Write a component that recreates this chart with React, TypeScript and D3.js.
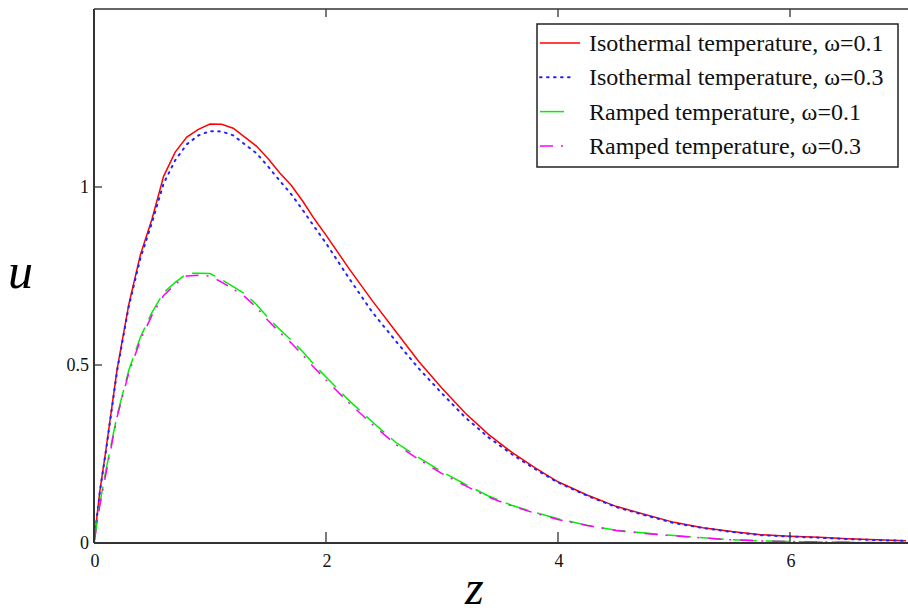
import React from "react";
import * as d3 from "d3";

const zVals = [0, 0.05, 0.1, 0.2, 0.3, 0.4, 0.5, 0.6, 0.7, 0.8, 0.9, 1.0, 1.1, 1.2, 1.3, 1.4, 1.5, 1.6, 1.7, 1.8, 1.9, 2.0,
  2.2, 2.4, 2.6, 2.8, 3.0, 3.2, 3.4, 3.6, 3.8, 4.0,
  4.25, 4.5, 4.75, 5.0, 5.25, 5.5, 5.75, 6.0, 6.25, 6.5, 6.75, 7.0];

const isoW01 = [0, 0.145, 0.255, 0.49, 0.67, 0.81, 0.91, 1.03, 1.098, 1.14, 1.162, 1.177, 1.176, 1.165, 1.14, 1.115, 1.08, 1.04, 1.005, 0.96, 0.91, 0.865,
  0.77, 0.68, 0.595, 0.51, 0.435, 0.365, 0.305, 0.255, 0.212, 0.172,
  0.135, 0.103, 0.08, 0.058, 0.043, 0.032, 0.023, 0.019, 0.016, 0.012, 0.009, 0.006];

const isoW03 = [0, 0.143, 0.252, 0.485, 0.665, 0.80, 0.90, 1.01, 1.075, 1.12, 1.145, 1.157, 1.156, 1.145, 1.12, 1.095, 1.058, 1.018, 0.98, 0.935, 0.888, 0.842,
  0.743, 0.648, 0.568, 0.49, 0.42, 0.353, 0.297, 0.25, 0.208, 0.17,
  0.133, 0.101, 0.078, 0.056, 0.042, 0.031, 0.022, 0.018, 0.015, 0.011, 0.008, 0.006];

const rampW01 = [0, 0.11, 0.2, 0.36, 0.485, 0.578, 0.648, 0.703, 0.732, 0.757, 0.758, 0.757, 0.74, 0.72, 0.7, 0.67, 0.633, 0.6, 0.57, 0.537, 0.5, 0.466,
  0.4, 0.34, 0.283, 0.24, 0.2, 0.165, 0.132, 0.106, 0.086, 0.068,
  0.05, 0.036, 0.028, 0.021, 0.015, 0.009, 0.006, 0.004, 0.003, 0.002, 0.001, 0.001];

const rampW03 = [0, 0.105, 0.19, 0.355, 0.478, 0.57, 0.64, 0.695, 0.727, 0.75, 0.752, 0.75, 0.733, 0.713, 0.692, 0.662, 0.625, 0.592, 0.562, 0.528, 0.492, 0.458,
  0.393, 0.333, 0.277, 0.235, 0.195, 0.161, 0.129, 0.104, 0.084, 0.066,
  0.049, 0.035, 0.027, 0.02, 0.014, 0.009, 0.006, 0.004, 0.003, 0.002, 0.001, 0.001];

const seriesNames = [
  "Isothermal temperature, \u03c9=0.1",
  "Isothermal temperature, \u03c9=0.3",
  "Ramped temperature, \u03c9=0.1",
  "Ramped temperature, \u03c9=0.3",
];

const xTicks = [0, 2, 4, 6];
const yTicks = [0, 0.5, 1];

const W = 908, H = 614;
const left = 94, right = 906, top = 9, bottom = 543;

export default function App() {
  const x = d3.scaleLinear().domain([0, 7]).range([left, right]);
  const y = d3.scaleLinear().domain([0, 1.5]).range([bottom, top]);
  const line = d3.line<number>().x((_, i) => x(zVals[i])).y((d) => y(d)).curve(d3.curveLinear);

  const styles = [
    { color: "#ff0000", dash: undefined as string | undefined, width: 1.5, legLen: 40 },
    { color: "#2222ff", dash: "1.6 5.4", width: 2, legLen: 32 },
    { color: "#00ee00", dash: "24 9", width: 1.5, legLen: 27 },
    { color: "#ff00ff", dash: "13 8 2 9", width: 1.5, legLen: 28 },
  ];
  const data = [isoW01, isoW03, rampW01, rampW03];
  const font = "'Liberation Serif', 'Times New Roman', serif";
  const axisColor = "#333";

  return (
    <svg width={W} height={H} style={{ position: "absolute", left: 0, top: 0, background: "#fff" }}>
      <defs>
        <clipPath id="plotclip">
          <rect x={left} y={top} width={W - left} height={bottom - top} />
        </clipPath>
      </defs>
      <g clipPath="url(#plotclip)">
        {data.map((d, i) => (
          <path key={i} d={line(d) || ""} fill="none" stroke={styles[i].color}
            strokeWidth={styles[i].width} strokeDasharray={styles[i].dash}
            strokeLinecap={i === 1 ? "round" : "butt"} />
        ))}
      </g>
      {/* frame */}
      <line x1={left} x2={left} y1={top} y2={bottom} stroke={axisColor} strokeWidth={2} />
      <line x1={left} x2={W} y1={bottom} y2={bottom} stroke={axisColor} strokeWidth={2} />
      <line x1={left} x2={W} y1={top} y2={top} stroke={axisColor} strokeWidth={1.5} />
      {/* x ticks */}
      {xTicks.filter((t) => t > 0).map((t) => (
        <g key={"xt" + t}>
          <line x1={x(t)} x2={x(t)} y1={bottom} y2={bottom - 11} stroke={axisColor} strokeWidth={1.3} />
          <line x1={x(t)} x2={x(t)} y1={top} y2={top + 8} stroke={axisColor} strokeWidth={1.3} />
        </g>
      ))}
      {xTicks.map((t) => (
        <text key={"xl" + t} x={x(t) + 1} y={bottom + 24} textAnchor="middle" fontFamily={font} fontSize={18} fill="#111">
          {t}
        </text>
      ))}
      {/* y ticks */}
      {yTicks.filter((t) => t > 0).map((t) => (
        <line key={"yt" + t} x1={left} x2={left + 8} y1={y(t)} y2={y(t)} stroke={axisColor} strokeWidth={1.3} />
      ))}
      {yTicks.map((t) => (
        <text key={"yl" + t} x={left - 5} y={y(t) + 6} textAnchor="end" fontFamily={font} fontSize={18} fill="#111">
          {t}
        </text>
      ))}
      {/* axis titles */}
      <text x={8} y={288} fontFamily={font} fontStyle="italic" fontSize={50} fill="#000">u</text>
      <text x={465} y={604} fontFamily={font} fontStyle="italic" fontSize={48} fill="#000">z</text>
      {/* legend */}
      <rect x={537} y={24} width={361} height={143} fill="#fff" stroke="#222" strokeWidth={1.5} />
      {seriesNames.map((name, i) => {
        const cy = 43 + i * 34.3;
        return (
          <g key={"lg" + i}>
            <line x1={540} x2={540 + styles[i].legLen} y1={cy} y2={cy} stroke={styles[i].color}
              strokeWidth={styles[i].width} strokeDasharray={styles[i].dash}
              strokeLinecap={i === 1 ? "round" : "butt"} />
            <text x={589} y={cy + 8} fontFamily={font} fontSize={24} fill="#111">{name}</text>
          </g>
        );
      })}
    </svg>
  );
}
